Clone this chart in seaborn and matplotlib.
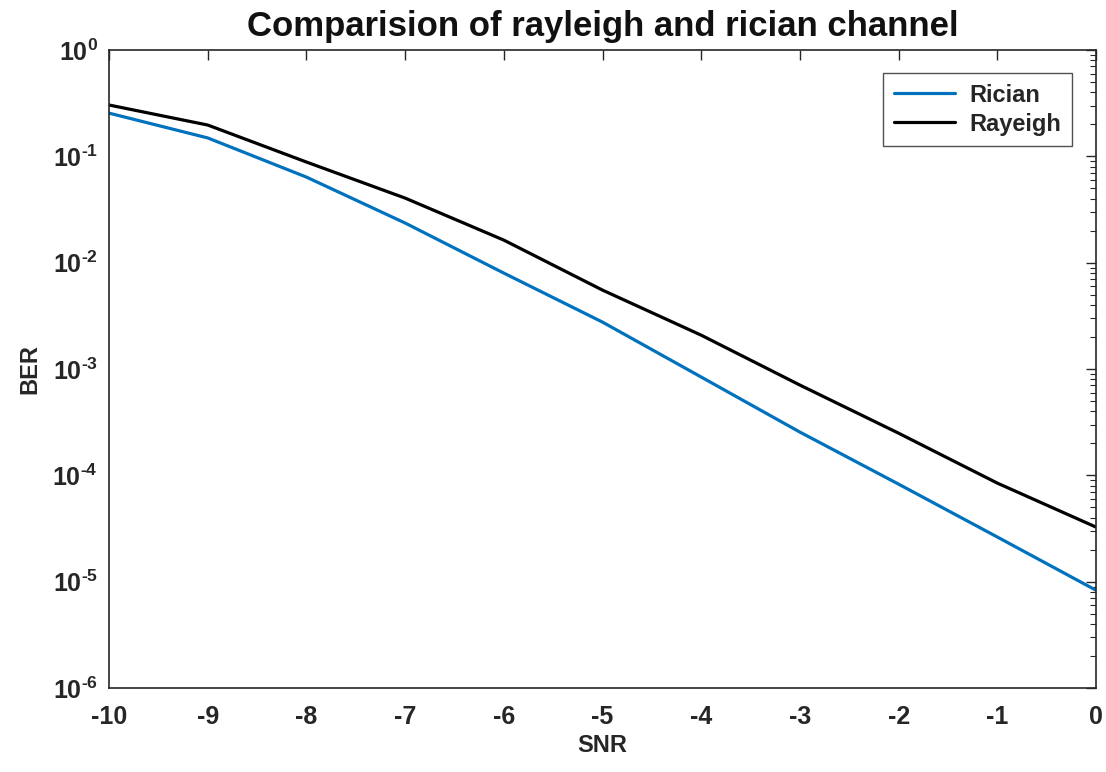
import numpy as np
import pandas as pd
import matplotlib
matplotlib.use("Agg")
import matplotlib.pyplot as plt
import seaborn as sns
from matplotlib.ticker import LogLocator, FixedLocator

snr = [-10, -9, -8, -7, -6, -5, -4, -3, -2, -1, 0]
ber_rician = [0.255, 0.149, 0.0638, 0.0236, 0.00798, 0.00276, 0.00084, 0.000255, 8.26e-5, 2.63e-5, 8.3e-6]
ber_rayleigh = [0.304, 0.197, 0.0884, 0.0405, 0.0163, 0.00552, 0.00208, 0.000706, 0.000249, 8.45e-5, 3.26e-5]
series_names = ["Rician", "Rayeigh"]
series_colors = ["#0072BD", "#000000"]
y_exponents = [-6, -5, -4, -3, -2, -1, 0]

df = pd.DataFrame({
    "SNR": snr * 2,
    "BER": ber_rician + ber_rayleigh,
    "series": [series_names[0]] * len(snr) + [series_names[1]] * len(snr),
})

sns.set_style("white")
plt.rcParams["font.family"] = ["Liberation Sans", "DejaVu Sans"]
plt.rcParams["font.weight"] = "bold"
plt.rcParams["axes.unicode_minus"] = False
plt.rcParams["mathtext.fontset"] = "custom"
plt.rcParams["mathtext.rm"] = "Liberation Sans:bold"
plt.rcParams["mathtext.bf"] = "Liberation Sans:bold"
plt.rcParams["mathtext.default"] = "bf"

fig = plt.figure(figsize=(11.06, 7.72), dpi=100)
ax = fig.add_axes([0.0986, 0.1088, 0.8924, 0.8264])

sns.lineplot(data=df, x="SNR", y="BER", hue="series", hue_order=series_names,
             palette=series_colors, linewidth=2.3, ax=ax)

ax.set_yscale("log")
ax.set_xlim(-10, 0)
ax.set_ylim(1e-6, 1e0)
ax.set_xticks(snr)
ax.set_xticklabels([str(v) for v in snr])
ax.yaxis.set_major_locator(FixedLocator([10.0**k for k in y_exponents]))
ax.set_yticklabels([r"$10^{\text{%s}}$" % str(k) for k in y_exponents])
ax.yaxis.set_minor_locator(LogLocator(base=10, subs=np.arange(2, 10), numticks=20))

grey = "#262626"
for s in ax.spines.values():
    s.set_visible(True)
    s.set_color(grey)
    s.set_linewidth(1.2)
ax.tick_params(which="both", direction="in", top=True, right=True, colors=grey,
               labelcolor=grey, labelsize=18)
ax.tick_params(axis="x", pad=12)
ax.tick_params(axis="y", pad=8)
ax.tick_params(which="major", length=7, width=1.0)
ax.tick_params(which="minor", length=4, width=0.8)
for lab in ax.get_xticklabels() + ax.get_yticklabels():
    lab.set_fontweight("bold")

ax.set_xlabel("SNR", fontsize=17, fontweight="bold", color=grey, labelpad=4)
ax.set_ylabel("BER", fontsize=17, fontweight="bold", color=grey, labelpad=8)
ax.set_title("Comparision of rayleigh and rician channel", fontsize=25,
             fontweight="bold", color="#111111", pad=10)

leg = ax.legend(loc="upper right", bbox_to_anchor=(0.9757, 0.964), frameon=True,
                fancybox=False, edgecolor="#262626",
                prop={"weight": "bold", "size": 17}, handlelength=2.6,
                borderpad=0.45, labelspacing=0.25, borderaxespad=0,
                handletextpad=0.6)
leg.get_frame().set_linewidth(1.0)
for t in leg.get_texts():
    t.set_color(grey)

fig.savefig("out.png", dpi=100, facecolor="white")
